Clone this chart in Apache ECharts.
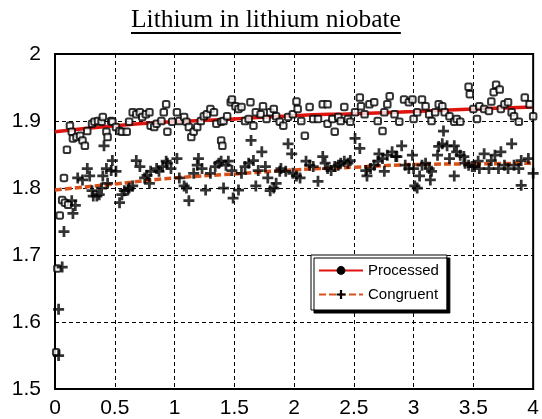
<!DOCTYPE html>
<html>
<head>
<meta charset="utf-8">
<script src="https://cdn.jsdelivr.net/npm/echarts@6/dist/echarts.min.js"></script>
<style>
  html, body { margin: 0; padding: 0; background: #fff; }
  #chart { width: 542px; height: 419px; }
</style>
</head>
<body>
<div id="chart"></div>
<script>
// measured points, [x, y]
const processedPts = [
  [0.01,1.555],[0.02,1.680],[0.04,1.759],[0.06,1.782],[0.075,1.815],[0.083,1.778],[0.10,1.857],[0.11,1.775],
  [0.125,1.893],[0.14,1.884],[0.15,1.874],[0.18,1.876],[0.21,1.878],[0.23,1.871],[0.25,1.863],[0.27,1.885],
  [0.31,1.896],[0.33,1.899],[0.36,1.900],[0.39,1.899],[0.40,1.906],[0.43,1.884],[0.44,1.876],[0.47,1.900],
  [0.48,1.899],[0.51,1.891],[0.54,1.885],[0.56,1.884],[0.60,1.884],[0.62,1.899],[0.65,1.913],[0.68,1.910],
  [0.71,1.913],[0.73,1.906],[0.76,1.910],[0.79,1.913],[0.80,1.893],[0.83,1.891],[0.85,1.896],[0.89,1.900],
  [0.91,1.913],[0.93,1.925],[0.94,1.884],[0.98,1.899],[1.02,1.913],[1.04,1.900],[1.08,1.906],[1.10,1.899],
  [1.12,1.891],[1.14,1.876],[1.16,1.884],[1.19,1.891],[1.22,1.900],[1.245,1.907],[1.27,1.910],[1.30,1.918],
  [1.33,1.913],[1.35,1.896],[1.39,1.899],[1.39,1.871],[1.40,1.863],[1.41,1.900],[1.44,1.907],[1.47,1.928],
  [1.48,1.932],[1.51,1.922],[1.535,1.918],[1.56,1.921],[1.59,1.900],[1.62,1.903],[1.635,1.928],[1.66,1.893],
  [1.68,1.913],[1.72,1.910],[1.74,1.922],[1.77,1.903],[1.80,1.913],[1.83,1.918],[1.85,1.907],[1.88,1.899],
  [1.91,1.893],[1.95,1.906],[1.99,1.910],[2.02,1.929],[2.03,1.918],[2.06,1.900],[2.09,1.878],[2.13,1.921],
  [2.16,1.903],[2.20,1.903],[2.24,1.925],[2.28,1.925],[2.28,1.896],[2.32,1.903],[2.34,1.884],[2.37,1.906],
  [2.39,1.900],[2.42,1.921],[2.45,1.903],[2.47,1.899],[2.51,1.913],[2.55,1.935],[2.56,1.922],[2.59,1.910],
  [2.63,1.925],[2.67,1.928],[2.70,1.900],[2.74,1.885],[2.755,1.913],[2.78,1.925],[2.80,1.937],[2.84,1.910],
  [2.88,1.899],[2.92,1.932],[2.96,1.928],[2.99,1.932],[3.00,1.903],[3.03,1.913],[3.07,1.932],[3.10,1.922],
  [3.13,1.910],[3.15,1.900],[3.18,1.913],[3.21,1.925],[3.24,1.922],[3.26,1.913],[3.30,1.907],[3.34,1.899],
  [3.36,1.903],[3.39,1.899],[3.46,1.951],[3.47,1.940],[3.50,1.918],[3.53,1.903],[3.55,1.922],[3.59,1.918],
  [3.63,1.915],[3.65,1.929],[3.67,1.943],[3.69,1.954],[3.72,1.947],[3.73,1.918],[3.76,1.925],[3.79,1.928],
  [3.82,1.913],[3.84,1.907],[3.88,1.899],[3.93,1.935],[3.97,1.925],[4.00,1.907]
];

const congruentPts = [
  [0.03,1.550],[0.03,1.619],[0.06,1.682],[0.075,1.735],[0.14,1.781],[0.15,1.762],[0.17,1.774],[0.19,1.815],
  [0.23,1.812],[0.27,1.829],[0.29,1.818],[0.31,1.796],[0.32,1.788],[0.35,1.788],[0.37,1.790],[0.39,1.800],
  [0.40,1.818],[0.41,1.863],[0.43,1.829],[0.44,1.807],[0.47,1.826],[0.48,1.841],[0.51,1.825],[0.54,1.778],
  [0.56,1.790],[0.58,1.796],[0.61,1.797],[0.62,1.800],[0.65,1.803],[0.68,1.841],[0.71,1.832],[0.75,1.815],
  [0.77,1.819],[0.79,1.807],[0.80,1.825],[0.85,1.829],[0.87,1.825],[0.90,1.832],[0.93,1.840],[0.94,1.837],
  [0.97,1.829],[1.02,1.844],[1.04,1.815],[1.08,1.803],[1.10,1.800],[1.12,1.781],[1.16,1.822],[1.19,1.834],
  [1.20,1.844],[1.23,1.829],[1.26,1.797],[1.30,1.822],[1.34,1.832],[1.37,1.837],[1.39,1.840],[1.41,1.800],
  [1.43,1.834],[1.45,1.840],[1.48,1.826],[1.49,1.785],[1.535,1.797],[1.56,1.822],[1.59,1.832],[1.62,1.837],
  [1.64,1.871],[1.66,1.841],[1.68,1.803],[1.70,1.826],[1.73,1.854],[1.76,1.832],[1.78,1.815],[1.80,1.796],
  [1.83,1.800],[1.85,1.807],[1.88,1.825],[1.89,1.829],[1.93,1.825],[1.95,1.866],[1.98,1.851],[1.99,1.822],
  [2.02,1.818],[2.05,1.815],[2.10,1.840],[2.13,1.834],[2.16,1.832],[2.20,1.810],[2.24,1.847],[2.26,1.837],
  [2.28,1.829],[2.31,1.826],[2.34,1.832],[2.37,1.834],[2.39,1.837],[2.42,1.840],[2.45,1.837],[2.47,1.841],
  [2.51,1.874],[2.55,1.859],[2.60,1.826],[2.61,1.818],[2.64,1.829],[2.67,1.834],[2.70,1.840],[2.71,1.851],
  [2.74,1.844],[2.755,1.825],[2.78,1.849],[2.82,1.854],[2.85,1.847],[2.86,1.847],[2.90,1.863],[2.93,1.834],
  [2.96,1.829],[2.99,1.849],[3.00,1.829],[3.01,1.803],[3.03,1.800],[3.05,1.818],[3.07,1.834],[3.10,1.837],
  [3.13,1.829],[3.14,1.812],[3.15,1.825],[3.20,1.849],[3.21,1.862],[3.24,1.866],[3.25,1.885],[3.28,1.863],
  [3.30,1.844],[3.34,1.863],[3.34,1.818],[3.36,1.854],[3.39,1.849],[3.42,1.847],[3.43,1.837],[3.46,1.834],
  [3.49,1.832],[3.51,1.832],[3.54,1.840],[3.55,1.829],[3.59,1.851],[3.63,1.829],[3.65,1.841],[3.68,1.849],
  [3.71,1.829],[3.73,1.854],[3.76,1.834],[3.79,1.829],[3.82,1.866],[3.84,1.834],[3.88,1.829],[3.90,1.841],
  [3.90,1.804],[3.96,1.844],[4.00,1.822]
];

// smoothed trend lines
const processedTrend = [[0,1.884],[0.5,1.893],[1,1.899],[1.5,1.903],[2,1.908],[2.5,1.911],[3,1.914],[3.5,1.918],[4,1.921]];
const congruentTrend = [[0,1.797],[0.5,1.806],[1,1.815],[1.5,1.821],[2,1.827],[2.5,1.831],[3,1.835],[3.5,1.836],[4,1.837]];

const titleText = 'Lithium in lithium niobate';
const legendNames = ['Processed', 'Congruent'];

const plusSymbol = 'path://M3,0H5V3H8V5H5V8H3V5H0V3H3Z';

const chart = echarts.init(document.getElementById('chart'));

const gridDash = { color: '#000', width: 1, type: [4, 3] };

// underline width follows the title text
const titleFont = '25.5px "Liberation Serif"';
const ctx = document.createElement('canvas').getContext('2d');
ctx.font = titleFont;
const titleW = ctx.measureText(titleText).width;

const option = {
  animation: false,
  backgroundColor: '#fff',
  title: {
    text: titleText,
    left: 131,
    top: 7,
    padding: 0,
    textStyle: { fontFamily: 'Liberation Serif', fontSize: 25.5, fontWeight: 'normal', color: '#000' }
  },
  graphic: [{
    type: 'line',
    shape: { x1: 131, y1: 33, x2: 131 + titleW, y2: 33 },
    style: { stroke: '#000', lineWidth: 2 }
  }],
  legend: {
    data: legendNames,
    orient: 'vertical',
    left: 311,
    top: 255,
    itemWidth: 44,
    itemHeight: 11,
    itemGap: 9,
    padding: [8, 8, 8, 7],
    backgroundColor: '#fff',
    borderColor: '#000',
    borderWidth: 1,
    shadowColor: '#000',
    shadowBlur: 0,
    shadowOffsetX: 3,
    shadowOffsetY: 3,
    textStyle: { fontFamily: 'Liberation Sans', fontSize: 15, color: '#000' }
  },
  grid: {
    left: 55, right: 5, top: 54, bottom: 25,
    show: true, borderColor: '#000', borderWidth: 2, backgroundColor: '#fff'
  },
  xAxis: {
    type: 'value',
    min: 0, max: 4, interval: 0.5,
    axisLine: { show: true, lineStyle: { color: '#000', width: 2 } },
    axisTick: { show: false },
    axisLabel: { color: '#000', fontFamily: 'Liberation Sans', fontSize: 21, margin: 9 },
    splitLine: { show: true, lineStyle: gridDash }
  },
  yAxis: {
    type: 'value',
    min: 1.5, max: 2, interval: 0.1,
    axisLine: { show: true, lineStyle: { color: '#000', width: 2 } },
    axisTick: { show: false },
    axisLabel: { color: '#000', fontFamily: 'Liberation Sans', fontSize: 21, margin: 14 },
    splitLine: { show: true, lineStyle: gridDash }
  },
  series: [
    {
      name: 'Processed',
      type: 'line',
      data: processedTrend,
      smooth: true,
      showSymbol: false,
      symbol: 'circle',
      symbolSize: 7,
      itemStyle: { color: '#000' },
      lineStyle: { color: '#e0140f', width: 3.5 },
      z: 2
    },
    {
      name: 'Congruent',
      type: 'line',
      data: congruentTrend,
      smooth: true,
      showSymbol: false,
      symbol: plusSymbol,
      symbolSize: 11,
      itemStyle: { color: '#000' },
      lineStyle: { color: '#d9501a', width: 3.5, type: [7, 3] },
      z: 2
    },
    {
      name: 'Processed points',
      type: 'scatter',
      data: processedPts,
      symbol: 'emptyRoundRect',
      symbolSize: 6.5,
      itemStyle: { color: '#000', borderColor: '#000', borderWidth: 2 },
      z: 3
    },
    {
      name: 'Congruent points',
      type: 'scatter',
      data: congruentPts,
      symbol: plusSymbol,
      symbolSize: 11,
      itemStyle: { color: '#000' },
      z: 3
    }
  ]
};

chart.setOption(option);
</script>
</body>
</html>
